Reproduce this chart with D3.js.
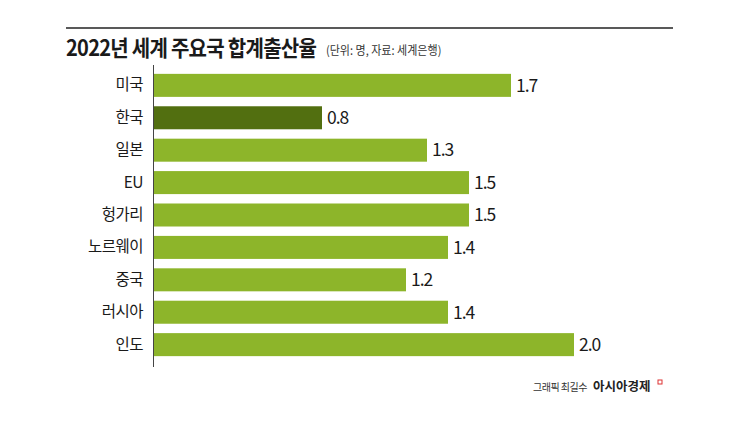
<!DOCTYPE html>
<html>
<head>
<meta charset="utf-8">
<script src="https://cdn.jsdelivr.net/npm/d3@7"></script>
<style>
  body { margin: 0; background: #fff; }
  text { font-family: "Noto Sans CJK KR", "Noto Sans", sans-serif; }
</style>
</head>
<body>
<svg id="chart" width="745" height="427"></svg>
<script>
// data
var countries = ["미국", "한국", "일본", "EU", "헝가리", "노르웨이", "중국", "러시아", "인도"];
var rates = [1.7, 0.8, 1.3, 1.5, 1.5, 1.4, 1.2, 1.4, 2.0];
var highlight = "한국";

var GREEN = "#8db52a",
    DARK = "#526f10";

var svg = d3.select("#chart");

// top rule + title
svg.append("line")
    .attr("x1", 66).attr("x2", 673)
    .attr("y1", 28).attr("y2", 28)
    .attr("stroke", "#222").attr("stroke-width", 1.5);

// condensed title: squeeze horizontally
svg.append("text")
    .attr("transform", "translate(66,56) scale(0.91,1)")
    .attr("font-size", 22).attr("font-weight", "bold")
    .attr("fill", "#1a1a1a")
    .attr("letter-spacing", -0.8)
    .text("2022년 세계 주요국 합계출산율");

svg.append("text")
    .attr("transform", "translate(326,55) scale(0.92,1)")
    .attr("font-size", 12).attr("fill", "#333")
    .text("(단위: 명, 자료: 세계은행)");

// scales
var y = d3.scaleBand()
    .domain(countries)
    .range([69, 361])
    .paddingInner(0.29)
    .paddingOuter(0.15);

var x = d3.scaleLinear()
    .domain([0, 2])
    .range([154, 574]);

// bars
svg.append("g").selectAll("rect")
    .data(countries)
  .enter().append("rect")
    .attr("x", x(0))
    .attr("y", function(d) { return y(d); })
    .attr("height", y.bandwidth())
    .attr("width", function(d, i) { return x(rates[i]) - x(0); })
    .attr("fill", function(d) { return d === highlight ? DARK : GREEN; });

// value labels
svg.append("g").selectAll("text")
    .data(countries)
  .enter().append("text")
    .attr("x", function(d, i) { return x(rates[i]) + 5; })
    .attr("y", function(d) { return y(d) + y.bandwidth() / 2; })
    .attr("dy", "0.36em")
    .attr("font-size", 17.5)
    .attr("letter-spacing", -1)
    .attr("fill", "#1a1a1a")
    .text(function(d, i) { return d3.format(".1f")(rates[i]); });

// category axis
var yAxis = svg.append("g")
    .attr("transform", "translate(154,0)")
    .call(d3.axisLeft(y).tickSize(0).tickPadding(11));

yAxis.select(".domain").remove();
yAxis.selectAll("text")
    .attr("font-size", 15.5)
    .attr("fill", "#1a1a1a")
    .attr("letter-spacing", -0.5)
    .style("font-family", "'Noto Sans CJK KR', sans-serif");

svg.append("line")
    .attr("x1", 153.5).attr("x2", 153.5)
    .attr("y1", 65).attr("y2", 367)
    .attr("stroke", "#444").attr("stroke-width", 1);

// credit
svg.append("text")
    .attr("x", 533).attr("y", 391)
    .attr("font-size", 10).attr("fill", "#333")
    .attr("letter-spacing", -0.5)
    .text("그래픽 최길수");

svg.append("text")
    .attr("x", 593).attr("y", 391)
    .attr("font-size", 12.5).attr("font-weight", "bold")
    .attr("fill", "#222")
    .text("아시아경제");

svg.append("rect")
    .attr("x", 658).attr("y", 380)
    .attr("width", 4).attr("height", 4)
    .attr("fill", "none").attr("stroke", "#d33").attr("stroke-width", 1);
</script>
</body>
</html>
